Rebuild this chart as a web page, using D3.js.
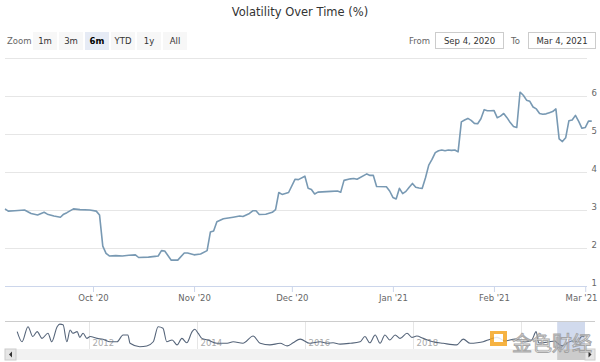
<!DOCTYPE html>
<html>
<head>
<meta charset="utf-8">
<script src="https://cdn.jsdelivr.net/npm/d3@7"></script>
<style>
  body { margin: 0; background: #fff; }
  svg { display: block; font-family: "DejaVu Sans", sans-serif; }
</style>
</head>
<body>
<svg id="chart" width="600" height="362"></svg>
<script>
// volatility (%) for the visible 6 month window
var dates = [
  "2020-09-04","2020-09-05","2020-09-07","2020-09-10","2020-09-12","2020-09-14","2020-09-16","2020-09-17",
  "2020-09-19","2020-09-21","2020-09-22","2020-09-23","2020-09-25","2020-09-27","2020-09-30","2020-10-02",
  "2020-10-03","2020-10-04","2020-10-05","2020-10-06","2020-10-08","2020-10-10","2020-10-12","2020-10-14",
  "2020-10-15","2020-10-18","2020-10-20","2020-10-21","2020-10-22","2020-10-23","2020-10-25","2020-10-27",
  "2020-10-29","2020-10-30","2020-11-01","2020-11-03","2020-11-05","2020-11-06","2020-11-07","2020-11-08",
  "2020-11-10","2020-11-13","2020-11-15","2020-11-16","2020-11-18","2020-11-19","2020-11-20","2020-11-21",
  "2020-11-23","2020-11-25","2020-11-26","2020-11-27","2020-11-28","2020-11-30","2020-12-02","2020-12-03",
  "2020-12-05","2020-12-06","2020-12-07","2020-12-08","2020-12-09","2020-12-13","2020-12-15","2020-12-16",
  "2020-12-17","2020-12-19","2020-12-20","2020-12-21","2020-12-24","2020-12-25","2020-12-26","2020-12-27",
  "2020-12-30","2020-12-31","2021-01-01","2021-01-02","2021-01-03","2021-01-04","2021-01-05","2021-01-06",
  "2021-01-07","2021-01-08","2021-01-09","2021-01-10","2021-01-11","2021-01-12","2021-01-13","2021-01-14",
  "2021-01-15","2021-01-16","2021-01-17","2021-01-18","2021-01-19","2021-01-20","2021-01-21","2021-01-22",
  "2021-01-23","2021-01-24","2021-01-25","2021-01-26","2021-01-27","2021-01-28","2021-01-29","2021-01-30",
  "2021-01-31","2021-02-01","2021-02-02","2021-02-03","2021-02-04","2021-02-05","2021-02-06","2021-02-07",
  "2021-02-08","2021-02-09","2021-02-10","2021-02-11","2021-02-12","2021-02-13","2021-02-14","2021-02-15",
  "2021-02-16","2021-02-17","2021-02-18","2021-02-19","2021-02-20","2021-02-21","2021-02-22","2021-02-23",
  "2021-02-24","2021-02-25","2021-02-26","2021-02-27","2021-02-28","2021-03-01","2021-03-02","2021-03-03"
];
var volatility = [
  3.03,2.97,2.98,3.00,2.91,2.87,2.94,2.89,
  2.84,2.81,2.89,2.93,3.03,3.01,3.00,2.97,
  2.87,2.05,1.86,1.79,1.80,1.79,1.81,1.82,
  1.75,1.76,1.78,1.79,1.93,1.92,1.68,1.68,
  1.87,1.87,1.82,1.84,1.93,2.42,2.45,2.69,
  2.77,2.81,2.84,2.83,2.91,2.98,2.98,2.88,
  2.89,2.94,3.01,3.46,3.41,3.46,3.81,3.80,
  3.89,3.57,3.54,3.42,3.47,3.49,3.50,3.47,
  3.78,3.82,3.83,3.81,3.95,3.91,3.91,3.62,
  3.61,3.50,3.33,3.29,3.57,3.43,3.49,3.60,
  3.70,3.60,3.58,3.57,3.85,4.18,4.33,4.51,
  4.56,4.58,4.56,4.58,4.57,4.58,4.53,5.32,
  5.37,5.41,5.36,5.28,5.27,5.40,5.64,5.61,
  5.61,5.62,5.43,5.47,5.54,5.43,5.30,5.20,
  5.17,6.10,6.02,5.89,5.86,5.71,5.66,5.54,
  5.52,5.53,5.56,5.59,5.66,4.87,4.80,4.90,
  5.35,5.37,5.49,5.33,5.15,5.17,5.34,5.34
];

// navigator: whole history (decimal years)
var navYears = [
  2010.67,2010.76,2010.87,2010.96,2011.04,2011.13,2011.24,2011.31,2011.41,2011.46,2011.52,2011.59,
  2011.65,2011.70,2011.78,2011.83,2011.89,2011.96,2012.02,2012.15,2012.26,2012.39,2012.52,2012.63,
  2012.72,2012.76,2012.94,2013.07,2013.19,2013.28,2013.37,2013.44,2013.54,2013.63,2013.72,2013.81,
  2013.91,2013.96,2014.02,2014.09,2014.20,2014.37,2014.56,2014.67,2014.85,2015.04,2015.17,2015.35,
  2015.54,2015.67,2015.78,2015.91,2016.09,2016.28,2016.41,2016.52,2016.65,2016.83,2017.02,2017.11,
  2017.20,2017.30,2017.39,2017.48,2017.57,2017.67,2017.76,2017.89,2017.98,2018.07,2018.19,2018.37,
  2018.56,2018.81,2018.93,2019.06,2019.19,2019.30,2019.43,2019.56,2019.70,2019.89,2020.07,2020.20,
  2020.28,2020.33,2020.50,2020.63,2020.67,2020.76,2020.85,2020.94,2021.04,2021.09,2021.13,2021.17
];
var navValues = [
  7.3,3.4,9.2,5.4,7.3,4.7,6.7,3.4,9.2,10.2,9.9,3.4,
  7.9,6.7,7.3,5.1,6.7,4.7,5.4,4.7,4.4,3.4,3.4,6.0,
  6.0,2.8,1.5,1.8,3.4,9.2,8.6,3.4,4.1,2.2,4.7,3.0,
  7.3,8.2,6.7,4.7,4.1,2.8,2.8,3.4,2.8,5.6,2.8,2.2,
  2.8,1.8,3.0,4.4,2.8,3.4,2.8,3.0,2.5,2.8,3.4,5.4,
  3.0,6.0,2.8,6.0,4.1,6.0,4.7,6.7,5.1,5.6,4.7,3.4,
  2.8,2.2,4.4,2.8,3.0,3.4,4.4,5.1,3.7,4.4,3.3,4.1,
  7.3,2.9,3.3,3.7,3.0,1.8,2.8,3.7,3.5,4.6,5.5,5.3
];
var navGridYears = [2012, 2014, 2016, 2018, 2020];
var navLabels = ["2012", "2014", "2016", "2018"];

var yTicks = [1, 2, 3, 4, 5, 6, 7];
var monthTicks = ["2020-10-01","2020-11-01","2020-12-01","2021-01-01","2021-02-01","2021-03-01"];
var zoomButtons = ["1m", "3m", "6m", "YTD", "1y", "All"];
var selectedButton = "6m";
var rangeFrom = "Sep 4, 2020", rangeTo = "Mar 4, 2021";

var parse = d3.timeParse("%Y-%m-%d");
var svg = d3.select("#chart");
var small = "8.5px";

// title
svg.append("text").attr("x", 300).attr("y", 16).attr("text-anchor", "middle")
  .style("font-size", "11.5px").style("fill", "#333").text("Volatility Over Time (%)");

// range selector
svg.append("text").attr("x", 7).attr("y", 44).style("font-size", small).style("fill", "#666").text("Zoom");
var btnX = [33, 59, 85, 111, 137, 163];
zoomButtons.forEach(function (b, i) {
  var sel = b == selectedButton;
  svg.append("rect").attr("x", btnX[i]).attr("y", 32).attr("width", 24).attr("height", 18)
    .style("fill", sel ? "#e6ebf5" : "#f7f7f7");
  svg.append("text").attr("x", btnX[i] + 12).attr("y", 44).attr("text-anchor", "middle")
    .style("font-size", small).style("font-weight", sel ? "bold" : "normal")
    .style("fill", sel ? "#000" : "#333").text(b);
});
svg.append("text").attr("x", 430).attr("y", 44).attr("text-anchor", "end").style("font-size", small).style("fill", "#666").text("From");
svg.append("rect").attr("x", 435.5).attr("y", 32.5).attr("width", 68).attr("height", 16).style("fill", "#fff").style("stroke", "#ccc");
svg.append("text").attr("x", 469.5).attr("y", 44).attr("text-anchor", "middle").style("font-size", small).style("fill", "#333").text(rangeFrom);
svg.append("text").attr("x", 511).attr("y", 44).style("font-size", small).style("fill", "#666").text("To");
svg.append("rect").attr("x", 528.5).attr("y", 32.5).attr("width", 67).attr("height", 16).style("fill", "#fff").style("stroke", "#ccc");
svg.append("text").attr("x", 562).attr("y", 44).attr("text-anchor", "middle").style("font-size", small).style("fill", "#333").text(rangeTo);

// main plot
var x = d3.scaleTime().domain([parse("2020-09-04"), parse("2021-03-04")]).range([5, 595]);
var y = d3.scaleLinear().domain([1, 7]).range([286, 58]);

svg.append("g").selectAll("line").data(yTicks).enter().append("line")
  .attr("x1", 5).attr("x2", 587)
  .attr("y1", function (d) { return Math.round(y(d)) + 0.5; })
  .attr("y2", function (d) { return Math.round(y(d)) + 0.5; })
  .style("stroke", function (d) { return d == 1 ? "#ccd6eb" : "#e6e6e6"; });

svg.append("g").selectAll("text").data(yTicks.filter(function (d) { return d < 7; })).enter().append("text")
  .attr("x", 597).attr("y", function (d) { return y(d) - 0.5; })
  .attr("text-anchor", "end").style("font-size", small).style("fill", "#666")
  .text(function (d) { return d; });

var xAxis = d3.axisBottom(x)
  .tickValues(monthTicks.map(parse))
  .tickFormat(d3.timeFormat("%b '%y"))
  .tickSize(6).tickPadding(3);
var gx = svg.append("g").attr("transform", "translate(0,286)").call(xAxis);
gx.select(".domain").remove();
gx.selectAll("line").style("stroke", "#ccd6eb");
gx.selectAll("text").style("font-size", small).style("fill", "#666").style("font-family", "DejaVu Sans, sans-serif");
// keep the last label inside the picture, like the original does
gx.selectAll(".tick").each(function (d) {
  var t = d3.select(this).select("text");
  var w = t.node().getComputedTextLength();
  var over = x(d) + w / 2 - 597;
  if (over > 0) t.attr("dx", -over);
});

var series = dates.map(function (d, i) { return { date: parse(d), v: volatility[i] }; });
var line = d3.line().x(function (d) { return x(d.date); }).y(function (d) { return y(d.v); });
svg.append("path").datum(series).attr("d", line)
  .style("fill", "none").style("stroke", "#7899b3").style("stroke-width", 1.6).style("stroke-linejoin", "round");

// navigator
var nx = d3.scaleLinear().domain([2012, 2020]).range([89, 521]);
var ny = d3.scaleLinear().domain([1, 11]).range([348, 322]);

svg.append("line").attr("x1", 5).attr("x2", 595).attr("y1", 321.5).attr("y2", 321.5).style("stroke", "#ccc");
navGridYears.forEach(function (t) {
  var xx = Math.round(nx(t)) + 0.5;
  svg.append("line").attr("x1", xx).attr("x2", xx).attr("y1", 322).attr("y2", 349).style("stroke", "#e6e6e6");
});
navLabels.forEach(function (l) {
  var xx = Math.round(nx(+l)) + 0.5;
  svg.append("text").attr("x", xx + 3).attr("y", 346).style("font-size", small).style("fill", "#aaa").text(l);
});

var navData = navYears.map(function (t, i) { return { t: t, v: navValues[i] }; });
var navLine = d3.line().curve(d3.curveMonotoneX).x(function (d) { return nx(d.t); }).y(function (d) { return ny(d.v); });
svg.append("path").datum(navData).attr("d", navLine)
  .style("fill", "none").style("stroke", "#56657a").style("stroke-width", 1.1);

// scrollbar + selected range
svg.append("rect").attr("x", 5).attr("y", 349).attr("width", 590).attr("height", 11).style("fill", "#f2f2f2");
svg.append("rect").attr("x", 5).attr("y", 349).attr("width", 11).attr("height", 11).style("fill", "#e6e6e6").style("stroke", "#ccc");
svg.append("path").attr("d", "M12,351.5 L9,354.5 L12,357.5 Z").style("fill", "#333");
svg.append("rect").attr("x", 585).attr("y", 349).attr("width", 10).attr("height", 11).style("fill", "#e6e6e6").style("stroke", "#ccc");
svg.append("path").attr("d", "M588.5,351.5 L591.5,354.5 L588.5,357.5 Z").style("fill", "#333");
svg.append("rect").attr("x", nx(2020.67)).attr("y", 322).attr("width", 585 - nx(2020.67)).attr("height", 27)
  .style("fill", "rgba(102,133,194,0.3)");
svg.append("rect").attr("x", nx(2020.67)).attr("y", 349).attr("width", 585 - nx(2020.67)).attr("height", 11)
  .style("fill", "#cccccc");

// watermark
var wm = svg.append("g").attr("opacity", 0.85);
wm.append("rect").attr("x", 490).attr("y", 331).attr("width", 17).attr("height", 15).style("fill", "#f5a623");
wm.append("rect").attr("x", 494).attr("y", 334).attr("width", 9).attr("height", 8).style("fill", "#fff");
wm.append("text").attr("x", 512).attr("y", 351).style("font-family", "Noto Sans CJK SC").style("font-size", "20px")
  .style("fill", "#fff").style("stroke", "#9a9a9a").style("stroke-width", 1).text("金色财经");
</script>
</body>
</html>
